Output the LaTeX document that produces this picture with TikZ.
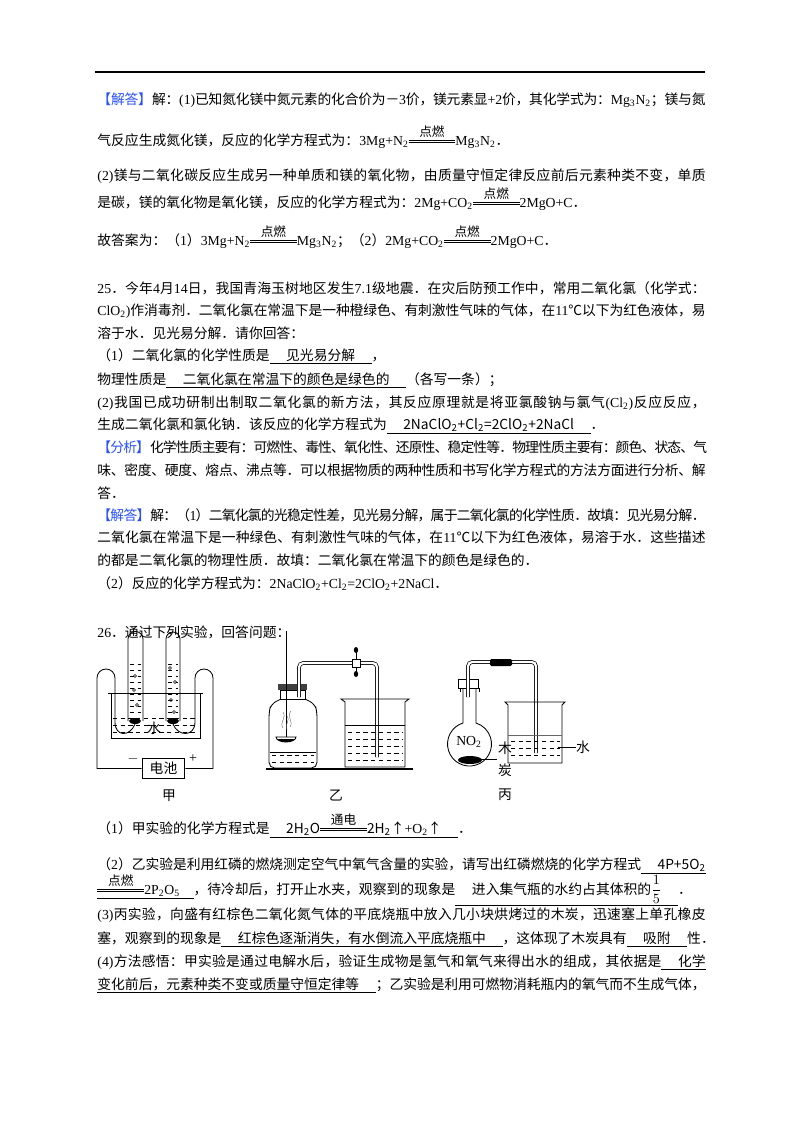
\documentclass[tikz,border=0pt]{standalone}
\usepackage{amsmath}
\usepackage{xcolor}
\usepackage{fontspec}
\setmainfont{Liberation Serif}
\newfontfamily\cjk{Noto Sans CJK SC}
% switch to the CJK font for Chinese characters
\XeTeXinterchartokenstate=1
\newXeTeXintercharclass\cjkclass
\count255="4E00
\loop\XeTeXcharclass\count255=\cjkclass\advance\count255 1 \ifnum\count255<"A000 \repeat
\count255="3000
\loop\XeTeXcharclass\count255=\cjkclass\advance\count255 1 \ifnum\count255<"3040 \repeat
\count255="FF00
\loop\XeTeXcharclass\count255=\cjkclass\advance\count255 1 \ifnum\count255<"FFF0 \repeat
\XeTeXcharclass"2103=\cjkclass
\XeTeXcharclass"2191=\cjkclass
\XeTeXinterchartoks 0 \cjkclass = {\hskip0pt plus 3pt minus .6pt\cjk}
\XeTeXinterchartoks 4095 \cjkclass = {\cjk}
\XeTeXinterchartoks \cjkclass 0 = {\hskip0pt plus 3pt minus .6pt\rmfamily}
\XeTeXinterchartoks \cjkclass \cjkclass = {\hskip0pt plus 3pt minus .6pt}
\definecolor{tagblue}{RGB}{40,80,255}
\newcommand\hd[1]{\textcolor{tagblue}{【#1】}}
\newcommand\ans[1]{\underline{\hspace{1.2em}#1\hspace{1.2em}}}
\newcommand\sub[1]{\textsubscript{#1}}
\newcommand\full[1]{\makebox[15.2cm][s]{#1}}
\newcommand\cond[2][3.4em]{\ensuremath{\overset{\mbox{\small #2}}{\vcenter{\hrule width #1 height .6pt\kern1.2pt\hrule width #1 height .6pt}}}}
\tikzset{
  line/.style={anchor=base west,inner sep=0pt,font=\fontsize{9.8}{11}\selectfont},
  lbl/.style={inner sep=0pt,font=\fontsize{9.8}{11}\selectfont},
  wdash/.style={dash pattern=on 3pt off 2.5pt,line width=0.4pt},
  tube/.style={double,double distance=1.6pt,line width=0.5pt,rounded corners=3pt}
}
\begin{document}
\begin{tikzpicture}[x=0.025cm,y=-0.025cm,line width=0.6pt]
\useasboundingbox (0,0) rectangle (800,1132);
\draw[line width=0.8pt] (95,72) -- (705,72);

% answer of question 24
\node[line] (a1) at (97,104) {\full{\hd{解答}解：(1)已知氮化镁中氮元素的化合价为－3价，镁元素显+2价，其化学式为：Mg\sub3N\sub2；镁与氮}};
\node[line] (a2) at (97,145) {气反应生成氮化镁，反应的化学方程式为：3Mg+N\sub2\cond{点燃}Mg\sub3N\sub2．};
\node[line] (a3) at (97,180) {\full{(2)镁与二氧化碳反应生成另一种单质和镁的氧化物，由质量守恒定律反应前后元素种类不变，单质}};
\node[line] (a4) at (97,207) {是碳，镁的氧化物是氧化镁，反应的化学方程式为：2Mg+CO\sub2\cond{点燃}2MgO+C．};
\node[line] (a5) at (97,245) {故答案为：（1）3Mg+N\sub2\cond{点燃}Mg\sub3N\sub2；（2）2Mg+CO\sub2\cond{点燃}2MgO+C．};

% question 25
\node[line] (b1) at (97,293) {\full{25．今年4月14日，我国青海玉树地区发生7.1级地震．在灾后防预工作中，常用二氧化氯（化学式：}};
\node[line] (b2) at (97,315) {\full{ClO\sub2)作消毒剂．二氧化氯在常温下是一种橙绿色、有刺激性气味的气体，在11℃以下为红色液体，易}};
\node[line] (b3) at (97,338) {溶于水．见光易分解．请你回答：};
\node[line] (b4) at (97,360) {（1）二氧化氯的化学性质是\ans{见光易分解}，};
\node[line] (b5) at (97,384) {物理性质是\ans{二氧化氯在常温下的颜色是绿色的}（各写一条）；};
\node[line] (b6) at (97,407) {\full{(2)我国已成功研制出制取二氧化氯的新方法，其反应原理就是将亚氯酸钠与氯气(Cl\sub2)反应反应，}};
\node[line] (b7) at (97,429) {生成二氧化氯和氯化钠．该反应的化学方程式为\ans{2NaClO\sub2+Cl\sub2=2ClO\sub2+2NaCl}．};
\node[line] (b8) at (97,452) {\full{\hd{分析}化学性质主要有：可燃性、毒性、氧化性、还原性、稳定性等．物理性质主要有：颜色、状态、气}};
\node[line] (b9) at (97,475) {\full{味、密度、硬度、熔点、沸点等．可以根据物质的两种性质和书写化学方程式的方法方面进行分析、解}};
\node[line] (b10) at (97,498) {答．};
\node[line] (b11) at (97,520) {\full{\hd{解答}解：（1）二氧化氯的光稳定性差，见光易分解，属于二氧化氯的化学性质．故填：见光易分解．}};
\node[line] (b12) at (97,542) {\full{二氧化氯在常温下是一种绿色、有刺激性气味的气体，在11℃以下为红色液体，易溶于水．这些描述}};
\node[line] (b13) at (97,565) {的都是二氧化氯的物理性质．故填：二氧化氯在常温下的颜色是绿色的．};
\node[line] (b14) at (97,588) {（2）反应的化学方程式为：2NaClO\sub2+Cl\sub2=2ClO\sub2+2NaCl．};

% question 26
\node[line] (c0) at (97,637) {26．通过下列实验，回答问题：};

% apparatus jia: electrolysis of water
\draw (108,693) -- (203,693);
\draw (111,693) -- (111,738) -- (200,738) -- (200,693);
\foreach \yy in {718,725,732} \draw[wdash] (113,\yy) -- (198,\yy);
\draw (128,721) -- (128,639) arc (180:360:7.5) -- (143,721);
\draw (166,721) -- (166,639) arc (180:360:7) -- (180,721);
\foreach \yy in {664,670,...,716} {
  \draw[wdash] (130,\yy) -- (141,\yy);
  \draw[wdash] (168,\yy) -- (178,\yy);
}
\foreach \p in {(135,676),(134,690),(137,705),(170,668),(175,682),(171,700),(174,712)}
  \draw[line width=0.4pt] \p circle (1.5);
\fill (135,721) ellipse (6 and 3);
\fill (173,721) ellipse (6 and 3);
\node[draw,lbl,minimum width=1.07cm,minimum height=0.52cm] (bat) at (163.5,768.5) {电池};
\draw (135,724) .. controls (130,737) and (115,737) .. (115,722) -- (115,678) arc (0:-180:9) -- (97,768.5) -- (bat.west);
\draw (173,724) .. controls (178,737) and (195,737) .. (195,722) -- (195,678) arc (180:360:9) -- (213,768.5) -- (bat.east);
\node[lbl] (wjia) at (154,728) {水};
\node[lbl] (neg) at (133,759) {$-$};
\node[lbl] (pos) at (193,759) {+};
\node[lbl] (jia) at (169,796) {甲};

% apparatus yi: red phosphorus
\draw[line width=1.2pt] (266,769) -- (413,769);
\draw[rounded corners=4pt] (281,699) -- (271,704) -- (269,712) -- (269,768) -- (317,768) -- (317,712) -- (315,704) -- (305,699);
\fill[black!75] (278,684) rectangle (307,690);
\draw (280,690) rectangle (305,699);
\foreach \yy in {755,762} \draw[wdash] (272,\yy) -- (314,\yy);
\draw (270,752) -- (316,752);
\draw[line width=0.4pt] (286,631) -- (286,737);
\draw (276,737) arc (180:0:10 and 5) -- cycle;
\fill (278,739) arc (180:0:8 and 3) -- cycle;
\draw[line width=0.3pt,black!60] (283,728) .. controls (279,722) and (287,718) .. (283,712)
  (290,727) .. controls (294,721) and (286,717) .. (291,711)
  (287,730) .. controls (284,724) and (291,720) .. (287,716);
\draw[tube] (299,697) -- (299,663) -- (377,663) -- (377,757);
\draw[fill=white] (352,659) rectangle (360,667);
\draw (356,659) -- (356,651) (356,667) -- (356,673);
\fill (356,650) ellipse (2.2 and 3);
\fill (356,674) ellipse (2.2 and 3);
\draw (341,699) -- (345,702) -- (345,767) -- (405,767) -- (405,702) -- (409,699) -- cycle;
\draw (345,725) -- (405,725);
\foreach \yy in {732,739,...,760} \draw[wdash] (348,\yy) -- (403,\yy);
\node[lbl] (yi) at (336,796) {乙};

% apparatus bing: charcoal and NO2
\draw (463,688) -- (463,723) arc (252.8:-72.8:22) -- (476,688);
\draw (458,679) rectangle (478,688);
\draw (460,688) -- (460,692) (479,688) -- (479,692);
\fill (470,760) ellipse (12 and 4);
\draw[tube] (468,697) -- (468,662) -- (536,662) -- (536,753);
\fill[rounded corners=1pt] (490,659) rectangle (512,666);
\draw (505,702) -- (508,705) -- (508,763) -- (562,763) -- (562,705) -- (565,702) -- cycle;
\draw[black!60] (508,735) -- (562,735);
\foreach \yy in {741,748,755} \draw[wdash] (511,\yy) -- (560,\yy);
\node[lbl] (no2) at (469,742) {NO\sub2};
\node[lbl] (mu) at (505,748) {木};
\node[lbl] (tan) at (505,770) {炭};
\draw[line width=0.5pt] (480,759) -- (497,759);
\node[lbl] (wbing) at (583,747) {水};
\draw[line width=0.5pt] (558,747) -- (wbing.west);
\node[lbl] (bing) at (505,795) {丙};

% answers of question 26
\node[line] (d1) at (97,833) {（1）甲实验的化学方程式是\ans{2H\sub2O\cond{通电}2H\sub2↑+O\sub2↑}．};
\node[line] (d2) at (97,869) {\full{（2）乙实验是利用红磷的燃烧测定空气中氧气含量的实验，请写出红磷燃烧的化学方程式\underline{\hspace{1.2em}4P+5O\sub2}}};
\node[line] (d3) at (97,894) {\underline{\cond{点燃}2P\sub2O\sub5\hspace{1em}}，待冷却后，打开止水夹，观察到的现象是\ans{进入集气瓶的水约占其体积的$\dfrac{1}{5}$}．};
\node[line] (d4) at (97,919) {\full{(3)丙实验，向盛有红棕色二氧化氮气体的平底烧瓶中放入几小块烘烤过的木炭，迅速塞上单孔橡皮}};
\node[line] (d5) at (97,943) {塞，观察到的现象是\ans{红棕色逐渐消失，有水倒流入平底烧瓶中}，这体现了木炭具有\ans{吸附}性．};
\node[line] (d6) at (97,966) {\full{(4)方法感悟：甲实验是通过电解水后，验证生成物是氢气和氧气来得出水的组成，其依据是\underline{\hspace{1.2em}化学}}};
\node[line] (d7) at (97,989) {\full{\underline{变化前后，元素种类不变或质量守恒定律等\hspace{1.2em}}；乙实验是利用可燃物消耗瓶内的氧气而不生成气体，}};
\end{tikzpicture}
\end{document}
